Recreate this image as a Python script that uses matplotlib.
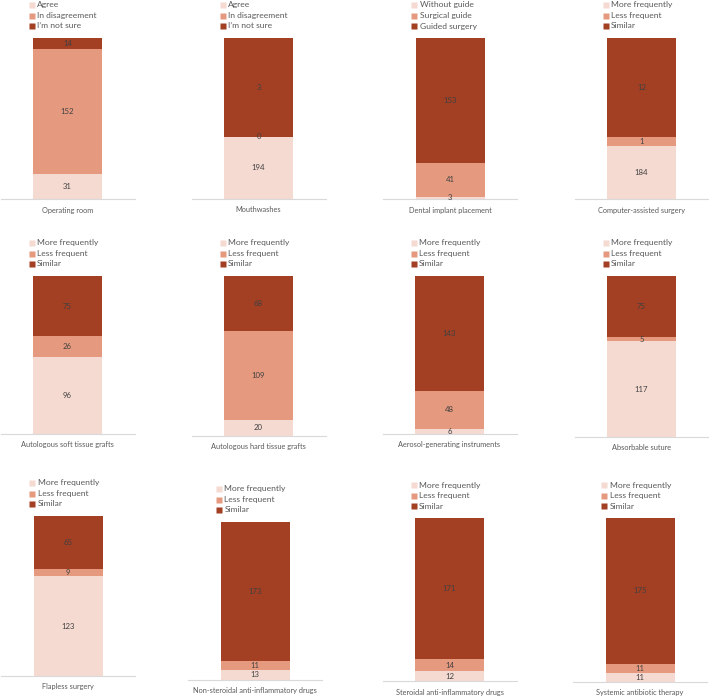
import matplotlib.pyplot as plt
from matplotlib import transforms

# --- Données ---
categories = ["Operating room", "Mouthwashes", "Dental implant placement", "Computer-assisted surgery",
              "Autologous soft tissue grafts", "Autologous hard tissue grafts",
              "Aerosol-generating instruments", "Absorbable suture",
              "Flapless surgery", "Non-steroidal anti-inflammatory drugs",
              "Steroidal anti-inflammatory drugs", "Systemic antibiotic therapy"]

agree_labels = ["Agree", "In disagreement", "I\u2019m not sure"]
guide_labels = ["Without guide", "Surgical guide", "Guided surgery"]
freq_labels = ["More frequently", "Less frequent", "Similar"]
panel_legends = [agree_labels, agree_labels, guide_labels] + [freq_labels] * 9

# valeurs affichées sur les barres
first_counts = [31, 194, 3, 184, 96, 20, 6, 117, 123, 13, 12, 11]
second_counts = [152, 0, 41, 1, 26, 109, 48, 5, 9, 11, 14, 11]
third_counts = [14, 3, 153, 12, 75, 68, 143, 75, 65, 173, 171, 175]

# hauteurs dessinées (différentes des étiquettes pour 2 graphiques)
first_heights = [31, 76, 3, 65, 96, 20, 6, 117, 123, 13, 12, 11]
second_heights = [152, 0, 41, 11, 26, 109, 48, 5, 9, 11, 14, 11]
third_heights = [14, 121, 153, 121, 75, 68, 143, 75, 65, 173, 171, 175]

COLORS = ["#F5DAD2", "#E59A80", "#A33F23"]

# --- Mise en page (pixels) ---
W, H = 709, 698
centers = [67.5, 258.5, 450, 641.5, 67.5, 258.5, 449.5, 641.5, 68, 255, 449.5, 640]
boxes = [(38, 199)] * 4 + [(276, 434), (276, 436), (276, 434), (276, 437),
                           (516, 676), (522, 680), (518, 681), (518, 682)]
AX_W = 134
BAR_W = 69 / AX_W

plt.rcParams['font.family'] = ['Lato', 'DejaVu Sans']
fig = plt.figure(figsize=(W / 100, H / 100), dpi=100)

for i, cat in enumerate(categories):
    top, bottom = boxes[i]
    ax = fig.add_axes([(centers[i] - AX_W / 2) / W, 1 - bottom / H, AX_W / W, (bottom - top) / H])
    heights = [first_heights[i], second_heights[i], third_heights[i]]
    counts = [first_counts[i], second_counts[i], third_counts[i]]

    base = 0
    for h, c, col in zip(heights, counts, COLORS):
        ax.bar(0, h, bottom=base, width=BAR_W, color=col, linewidth=0)
        ax.text(0, base + h / 2, str(c), ha='center', va='center', fontsize=5.6, color='#404040')
        base += h

    ax.set_xlim(-0.5, 0.5)
    ax.set_ylim(0, sum(heights))
    for s in ['top', 'right', 'left']:
        ax.spines[s].set_visible(False)
    ax.spines['bottom'].set_color('#D9D9D9')
    ax.spines['bottom'].set_linewidth(0.8)
    ax.set_yticks([])
    ax.set_xticks([])

    blend = transforms.blended_transform_factory(ax.transData, ax.transAxes)
    # étiquette de catégorie
    t = transforms.offset_copy(blend, fig=fig, x=0, y=-11, units='dots')
    ax.text(0, 0, cat, transform=t, ha='center', va='center', fontsize=5.3, color='#595959')

    # légende manuelle au-dessus de la barre
    for k, (lab, col) in enumerate(zip(panel_legends[i], COLORS)):
        dy = [33, 22.5, 12][k]
        tm = transforms.offset_copy(blend, fig=fig, x=-1.5, y=dy, units='dots')
        ax.plot([-BAR_W / 2], [1], marker='s', ms=4.2, color=col, mec='none',
                transform=tm, clip_on=False)
        tt = transforms.offset_copy(blend, fig=fig, x=4, y=dy, units='dots')
        ax.text(-BAR_W / 2, 1, lab, transform=tt, ha='left', va='center', fontsize=6.1,
                color='#595959')

fig.savefig("out.png", dpi=100)
